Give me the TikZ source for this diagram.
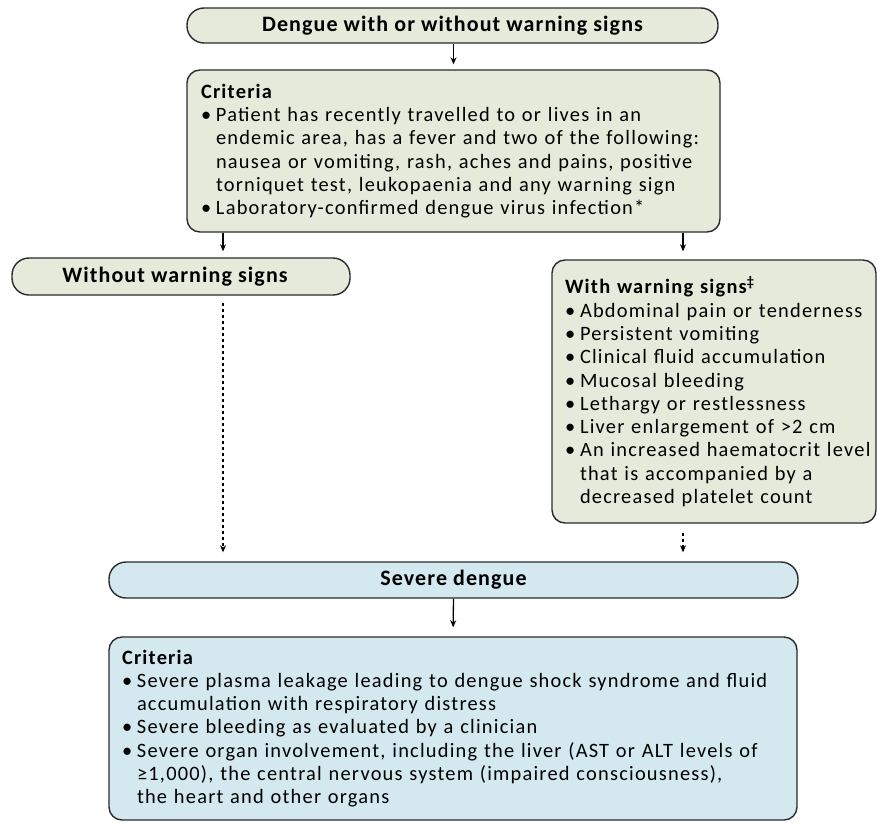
\documentclass[tikz,border=0pt]{standalone}
\usepackage{fontspec}
\setmainfont{Carlito}[LetterSpace=6]
\newfontfamily\headfont{Carlito}[LetterSpace=5]
\usetikzlibrary{arrows.meta}
\definecolor{boxgreen}{HTML}{E5EADA}
\definecolor{boxblue}{HTML}{D3E8EF}
\definecolor{edge}{HTML}{2B2B2B}
\newcommand{\bitem}[1]{\par\hangindent=15pt\hangafter=1\noindent\makebox[15pt][l]{\textbullet}#1\par}
\tikzset{
  pill/.style={draw=edge, line width=1.4pt, rounded corners=17pt, inner sep=0pt,
    font=\headfont\fontsize{22}{24}\selectfont\bfseries},
  panel/.style={draw=edge, line width=1.4pt, rounded corners=13pt, inner sep=0pt,
    align=left, font=\fontsize{20.4}{23.3}\selectfont},
  arr/.style={-{Stealth[length=7pt,width=6pt]}, line width=1.3pt, draw=black},
  dotarr/.style={arr, dash pattern=on 3.5pt off 2.5pt, line width=1.7pt},
}
\begin{document}
\begin{tikzpicture}[x=1pt,y=-1pt]
\useasboundingbox (0,0) rectangle (877,822);
% boxes
\node[pill, fill=boxgreen, minimum width=531pt, minimum height=35pt] (top) at (452.5,25.5)
  {Dengue with or without warning signs};
\node[panel, fill=boxgreen, minimum width=533pt, minimum height=162pt, text width=505pt] (crit1) at (453.5,151)
  {{\bfseries Criteria}\par
   \bitem{Patient has recently travelled to or lives in an\newline
   endemic area, has a fever and two of the following:\newline
   nausea or vomiting, rash, aches and pains, positive\newline
   torniquet test, leukopaenia and any warning sign}
   \bitem{Laboratory-confirmed dengue virus infection*}};
\node[pill, fill=boxgreen, minimum width=338pt, minimum height=37pt] (without) at (181,276.5)
  {Without warning signs\hspace*{12pt}};
\node[panel, fill=boxgreen, minimum width=324pt, minimum height=263pt, text width=298pt] (with) at (714,391.5)
  {{\bfseries With warning signs\textsuperscript{‡}}\par
   \bitem{Abdominal pain or tenderness}
   \bitem{Persistent vomiting}
   \bitem{Clinical fluid accumulation}
   \bitem{Mucosal bleeding}
   \bitem{Lethargy or restlessness}
   \bitem{Liver enlargement of >2 cm}
   \bitem{\mbox{An increased haematocrit level}\newline
   that is accompanied by a\newline
   decreased platelet count}};
\node[pill, fill=boxblue, minimum width=689pt, minimum height=36pt] (severe) at (453.5,580)
  {Severe dengue};
\node[panel, fill=boxblue, minimum width=688pt, minimum height=183pt, text width=662pt] (crit2) at (453,728.5)
  {{\bfseries Criteria}\par
   \bitem{Severe plasma leakage leading to dengue shock syndrome and fluid\newline
   accumulation with respiratory distress}
   \bitem{Severe bleeding as evaluated by a clinician}
   \bitem{Severe organ involvement, including the liver (AST or ALT levels of\newline
   ≥1,000), the central nervous system (impaired consciousness),\newline
   the heart and other organs}};
% column guides
\coordinate (lx) at (223,0);
\coordinate (rx) at (683,0);
% connectors
\draw[arr, shorten >=5pt] (top.south -| crit1.north) -- (crit1.north);
\draw[arr, shorten >=6pt] (crit1.south -| lx) -- (without.north -| lx);
\draw[arr, shorten >=8pt] (crit1.south -| rx) -- (with.north -| rx);
\draw[dotarr, shorten <=7pt, shorten >=9pt] (without.south -| lx) -- (severe.north -| lx);
\draw[dotarr, shorten <=9pt, shorten >=9pt] (with.south -| rx) -- (severe.north -| rx);
\draw[arr, shorten >=9pt] (severe.south) -- (crit2.north);
\end{tikzpicture}
\end{document}
